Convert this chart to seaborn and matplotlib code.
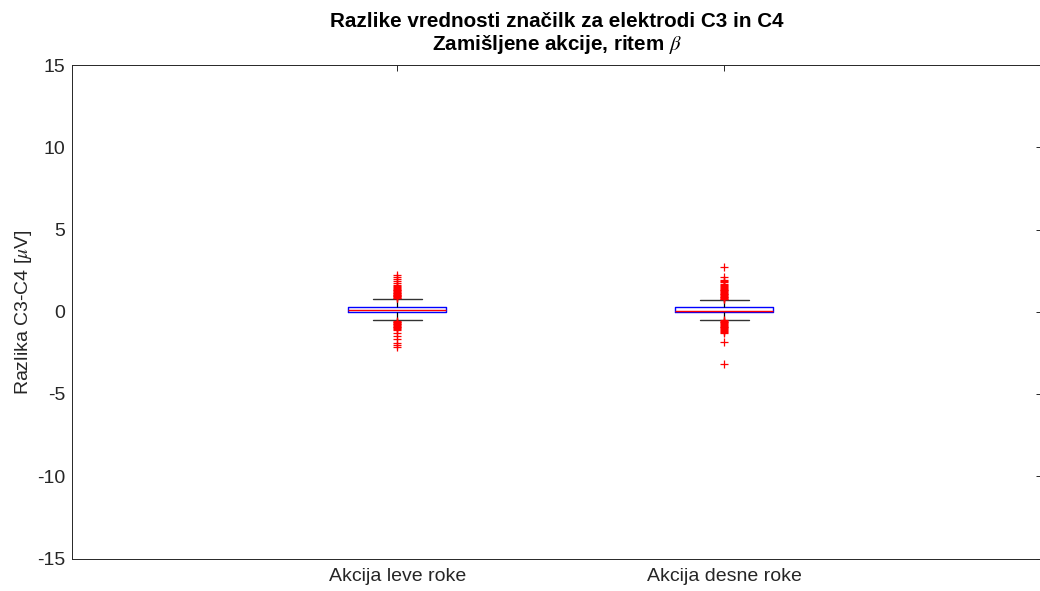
import numpy as np
import pandas as pd
import matplotlib
matplotlib.use("Agg")
import matplotlib.pyplot as plt
import seaborn as sns

# ---- data ----
categories = ["Akcija leve roke", "Akcija desne roke"]
q1_vals = [-0.02, -0.035]
median_vals = [0.105, 0.075]
q3_vals = [0.31, 0.27]
whisker_lo = [-0.49, -0.48]
whisker_hi = [0.78, 0.72]
outliers_hi_leve = [0.83, 0.86, 0.90, 0.93, 0.97, 1.00, 1.04, 1.08, 1.12, 1.16, 1.20,
                    1.25, 1.30, 1.35, 1.40, 1.45, 1.50, 1.55, 1.63, 1.73, 1.87, 1.99,
                    2.13, 2.23]
outliers_lo_leve = [-0.56, -0.60, -0.64, -0.68, -0.72, -0.76, -0.80, -0.85, -0.90,
                    -0.95, -1.00, -1.06, -1.12, -1.31, -1.45, -1.65, -1.90, -2.02, -2.12]
outliers_hi_desne = [0.76, 0.80, 0.84, 0.88, 0.92, 0.96, 1.00, 1.05, 1.10, 1.15, 1.20,
                     1.25, 1.30, 1.35, 1.40, 1.45, 1.50, 1.56, 1.62, 1.70, 1.78, 1.86,
                     1.93, 2.13, 2.70]
outliers_lo_desne = [-0.53, -0.57, -0.61, -0.65, -0.70, -0.75, -0.80, -0.85, -0.90,
                     -0.95, -1.00, -1.05, -1.10, -1.17, -1.24, -1.31, -1.86, -3.18]
outliers_hi = [outliers_hi_leve, outliers_hi_desne]
outliers_lo = [outliers_lo_leve, outliers_lo_desne]
yticks = [-15, -10, -5, 0, 5, 10, 15]

# build a sample per category that reproduces the box statistics
BLOCK = 200
rows = []
for i, cat in enumerate(categories):
    vals = (list(outliers_lo[i]) + [whisker_lo[i]]
            + [q1_vals[i]] * BLOCK + [median_vals[i]] * BLOCK + [q3_vals[i]] * BLOCK
            + [whisker_hi[i]] + list(outliers_hi[i]))
    for v in vals:
        rows.append((cat, v))
df = pd.DataFrame(rows, columns=["akcija", "razlika"])

sns.set_theme(style="white")
plt.rcParams["font.family"] = ["Liberation Sans", "DejaVu Sans"]
plt.rcParams["mathtext.fontset"] = "stix"

fig = plt.figure(figsize=(10.4, 5.91), dpi=100)
ax = fig.add_axes([72 / 1040, 1 - 558.5 / 591, (1041.5 - 72) / 1040, (558.5 - 65) / 591])
ax.patch.set_edgecolor("none")
ax.patch.set_linewidth(0)

sns.boxplot(data=df, x="akcija", y="razlika", order=categories, ax=ax,
            width=0.30, whis=1.5, fill=False, linewidth=1.0,
            boxprops=dict(color="blue", linewidth=1.0),
            medianprops=dict(color="red", linewidth=1.0),
            whiskerprops=dict(color="black", linewidth=0.9),
            capprops=dict(color="#333333", linewidth=1.0),
            flierprops=dict(marker="+", markeredgecolor="red", markerfacecolor="red",
                            markersize=6, markeredgewidth=0.9, linestyle="none"))

ax.set_xlim(-0.995, 1.97)
ax.set_ylim(-15, 15)
ax.set_yticks(yticks)
ax.set_yticklabels([str(t) for t in yticks])
ax.set_xlabel("")
ax.set_ylabel(r"Razlika C3-C4 [$\mu$V]", fontsize=14, color="#262626", labelpad=2)
ax.set_title("Razlike vrednosti značilk za elektrodi C3 in C4\n"
             r"Zamišljene akcije, ritem $\beta$",
             fontsize=14.9, fontweight="bold", pad=11, linespacing=1.1, color="black")

for sp in ax.spines.values():
    sp.set_visible(True)
    sp.set_color("#262626")
    sp.set_linewidth(0.7)
ax.spines["right"].set_visible(False)
ax.tick_params(axis="both", which="both", direction="in", length=4.5, width=0.7,
               top=True, right=True, labelsize=14, colors="#262626",
               labelcolor="#262626")
ax.tick_params(axis="x", pad=7)
ax.tick_params(axis="y", pad=5)

fig.savefig("out.png", dpi=100)
